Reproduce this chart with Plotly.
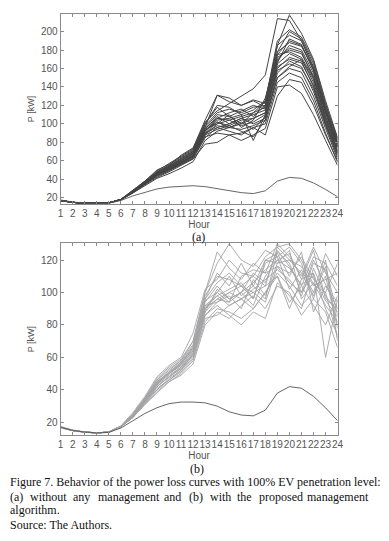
import plotly.graph_objects as go

W, H = 389, 541
hours = list(range(1, 25))

# (a) without management: power loss curves [kW]
top_curves = [
    [17,15,14,14,14.5,18,26,35,44,50,58,66,90,102,98,104,106,112,160,172,168,140,100,68],
    [17,15,14,13.8,14.5,18,27,37,47,54,62,70,96,110,108,100,112,118,170,182,178,150,108,74],
    [16.5,14.8,14,13.8,14.3,17.5,25,33,41,46,52,59,82,92,96,94,98,104,150,160,156,130,95,62],
    [17,15,14,14,14.5,18,27,36,45,52,60,68,92,106,112,116,108,120,175,190,185,158,115,78],
    [17.5,15.3,14.2,14,14.6,18.2,28,38,50,56,64,72,100,120,118,110,115,125,185,196,190,162,118,80],
    [17,15,14,14,14.4,17.8,25,34,42,48,55,62,85,96,92,88,96,100,145,155,150,125,90,58],
    [17,15,14,14,14.5,18,26,36,46,52,58,65,88,100,104,98,102,110,165,176,170,145,104,70],
    [17.2,15,14.1,14,14.5,18,27,37,48,55,66,74,104,131,124,120,126,122,178,200,192,165,120,84],
    [17,15,14,14,14.5,18,26,35,43,49,56,63,86,90,88,82,88,95,140,142,133,110,82,55],
    [17,15,14,13.9,14.5,18,26,36,45,50,57,64,90,98,96,102,94,108,158,165,160,138,100,66],
    [17,15,14,14,14.5,18,27,37,47,53,60,67,94,108,100,106,110,115,172,180,176,152,112,76],
    [17,15,14,14,14.5,18.2,28,38,49,57,65,73,102,114,122,130,138,153,214,212,190,160,115,78],
    [17,15,14,14,14.5,18,27,37,47,54,62,70,98,112,116,112,118,120,185,218,198,170,125,85],
    [17,15,14,14,14.5,18,26,35,44,50,56,62,78,80,88,90,96,88,130,148,145,120,88,60],
    [17,15,14,14,14.5,18,27,36,46,53,60,68,96,131,128,120,125,118,168,185,180,155,112,75],
    [17,15,14,14,14.5,18,26,36,45,51,58,66,92,104,106,110,82,110,162,170,166,142,102,68],
    [17,15,14,14,14.5,18,27,37,46,52,60,68,94,100,110,96,104,128,178,188,184,160,116,80],
    [17,15,14,14,14.5,18,26,35,45,51,58,65,90,96,100,106,100,106,150,162,170,148,106,70],
    [17,15,14,14,14.5,18,27,36,46,53,61,69,95,106,104,108,112,124,190,202,194,168,122,82],
    [17,15,14,14,14.5,18,26,35,44,51,57,64,88,94,98,92,86,104,155,168,162,135,98,64],
    [17,15,14,14,14.5,18,27,37,48,55,63,71,100,118,108,114,120,116,175,178,172,150,108,72],
    [17,15,14,14,14.5,18,26,36,45,52,59,66,93,102,96,100,106,112,166,192,186,158,114,76],
]

# (b) with the proposed management algorithm
bottom_curves = [
    [17,15,14,13.5,14,17.5,24,32,40,46,52,62,88,96,94,100,92,110,120,115,105,110,95,85],
    [17,15,14,13.5,14,17.5,25,34,44,50,56,66,95,100,110,98,104,96,125,118,100,120,105,90],
    [16.5,14.8,13.8,13.3,13.8,17,23,31,39,45,50,58,82,90,88,84,90,100,112,104,92,100,110,78],
    [17,15,14,13.5,14,17.5,25,35,46,53,58,70,100,125,115,108,118,112,130,122,110,128,112,100],
    [17,15,14,13.5,14,17.5,24,33,42,48,53,62,90,98,102,106,96,118,122,128,118,96,120,70],
    [17.5,15.3,14.2,13.6,14.2,17.8,26,36,48,55,60,75,102,108,120,112,110,122,128,130,120,105,100,118],
    [17,15,14,13.5,14,17.5,23,32,40,47,52,60,84,86,92,96,100,104,110,90,108,112,60,96],
    [17,15,14,13.5,14,17.5,24,34,44,51,57,66,92,94,98,90,108,98,118,126,96,106,92,82],
    [17,15,14,13.5,14,17.5,25,34,45,51,56,65,96,112,104,118,104,120,124,110,125,88,104,94],
    [17,15,14,13.5,14,17.5,23,32,41,46,51,59,86,92,86,80,88,84,106,98,90,115,98,88],
    [17,15,14,13.5,14,17.5,24,33,43,50,55,64,94,104,96,100,112,106,126,116,104,122,118,104],
    [17,15,14,13.5,14,17.5,25,35,47,54,59,70,100,118,130,120,116,126,122,102,114,100,124,110],
    [17,15,14,13.5,14,17.5,24,34,43,49,54,63,90,96,100,104,100,94,116,112,122,108,100,72],
    [17,15,14,13.5,14,17.5,23,31,38,45,49,56,80,88,84,92,98,90,104,100,86,96,88,66],
    [17,15,14,13.5,14,17.5,24,33,42,48,54,62,88,102,96,100,106,114,120,124,108,126,96,90],
    [17,15,14,13.5,14,17.5,25,35,46,52,58,68,98,110,108,104,96,120,118,120,116,104,108,112],
    [17,15,14,13.5,14,17.5,24,34,44,50,56,66,92,98,92,96,102,108,114,108,98,118,114,80],
    [17,15,14,13.5,14,17.5,23,32,42,48,53,61,86,94,100,96,90,100,110,94,104,92,80,98],
    [17,15,14,13.5,14,17.5,24,33,44,51,57,67,96,106,112,104,110,104,128,120,112,98,116,86],
    [17,15,14,13.5,14,17.5,25,34,45,50,55,64,90,100,94,110,114,112,116,106,100,112,90,74],
]

# Base case (no EVs)
base_a = [17,15,14,13.5,14,17,22,26,29.5,31.5,32.5,33,32,30,28,25.5,24.5,27.5,38,42,41,36,29,21]
base_b = [17,15,14,13.5,13.8,16.5,21,25.5,29,31.5,32.5,32.5,32,30,26.5,24.5,24,27.5,38,42,41,36,29,21]

yticks_a = [20,40,60,80,100,120,140,160,180,200]
yticks_b = [20,40,60,80,100,120]

fig = go.Figure()
for c in top_curves:
    fig.add_trace(go.Scatter(x=hours, y=c, mode="lines", xaxis="x", yaxis="y",
                             line=dict(color="#444444", width=1.0), showlegend=False, hoverinfo="skip"))
fig.add_trace(go.Scatter(x=hours, y=base_a, mode="lines", xaxis="x", yaxis="y",
                         line=dict(color="#555555", width=0.9), showlegend=False))
for c in bottom_curves:
    fig.add_trace(go.Scatter(x=hours, y=c, mode="lines", xaxis="x2", yaxis="y2",
                             line=dict(color="#a4a4a6", width=0.9), showlegend=False, hoverinfo="skip"))
fig.add_trace(go.Scatter(x=hours, y=base_b, mode="lines", xaxis="x2", yaxis="y2",
                         line=dict(color="#555555", width=0.9), showlegend=False))

def px(x):
    return x / W

def py(y):
    return 1 - y / H

sans = "Liberation Sans Narrow, Liberation Sans, sans-serif"
tickfont = dict(family=sans, size=10, color="#555555")
common_x = dict(range=[1, 24], tickvals=hours, tickangle=0, showline=True, mirror="ticks",
                linecolor="#8a8a8a", linewidth=1, ticks="inside", ticklen=3, tickcolor="#8a8a8a",
                showgrid=False, zeroline=False, tickfont=tickfont,
                title=dict(text="Hour", font=dict(family=sans, size=10, color="#555555"), standoff=1))
common_y = dict(showline=True, mirror="ticks", linecolor="#8a8a8a", linewidth=1, ticks="inside",
                ticklen=3, tickcolor="#8a8a8a", showgrid=False, zeroline=False, tickfont=tickfont,
                title=dict(text="P [kW]", font=dict(family=sans, size=9, color="#555555"), standoff=4))

fig.update_layout(
    width=W, height=H, margin=dict(l=0, r=0, t=0, b=0),
    paper_bgcolor="white", plot_bgcolor="white", showlegend=False,
    xaxis=dict(domain=[px(59), px(342.5)], anchor="y", **common_x),
    yaxis=dict(domain=[py(204), py(14)], anchor="x", range=[13.2, 219], tickvals=yticks_a, **common_y),
    xaxis2=dict(domain=[px(59), px(342.5)], anchor="y2", **common_x),
    yaxis2=dict(domain=[py(435), py(243.3)], anchor="x2", range=[12.2, 130.3], tickvals=yticks_b, **common_y),
)

serif = "Liberation Serif"
ann = []
ann.append(dict(text="(a)", x=px(200), y=py(237), xanchor="center", yanchor="middle", size=12))
ann.append(dict(text="(b)", x=px(199), y=py(469), xanchor="center", yanchor="middle", size=12))
ann.append(dict(text="Figure 7. Behavior of the power loss curves with 100% EV penetration level:",
                x=px(7), y=py(482), xanchor="left", yanchor="middle", size=12))
line2 = [("(a)", 7), ("without", 28), ("any", 72), ("management", 97), ("and", 165), ("(b)", 190),
         ("with", 212), ("the", 240), ("proposed", 262)]
for w, xx in line2:
    ann.append(dict(text=w, x=px(xx), y=py(497), xanchor="left", yanchor="middle", size=12))
ann.append(dict(text="management", x=px(375), y=py(497), xanchor="right", yanchor="middle", size=12))
ann.append(dict(text="algorithm.", x=px(7), y=py(510), xanchor="left", yanchor="middle", size=12))
ann.append(dict(text="Source: The Authors.", x=px(7), y=py(525), xanchor="left", yanchor="middle", size=12))
for a in ann:
    s = a.pop("size")
    a.update(xref="paper", yref="paper", showarrow=False, borderpad=0, borderwidth=0,
             font=dict(family=serif, size=s, color="#111111"))
fig.update_layout(annotations=ann)

fig.write_html("out.html", config={"displayModeBar": False},
               post_script="document.body.style.margin='0px';")
